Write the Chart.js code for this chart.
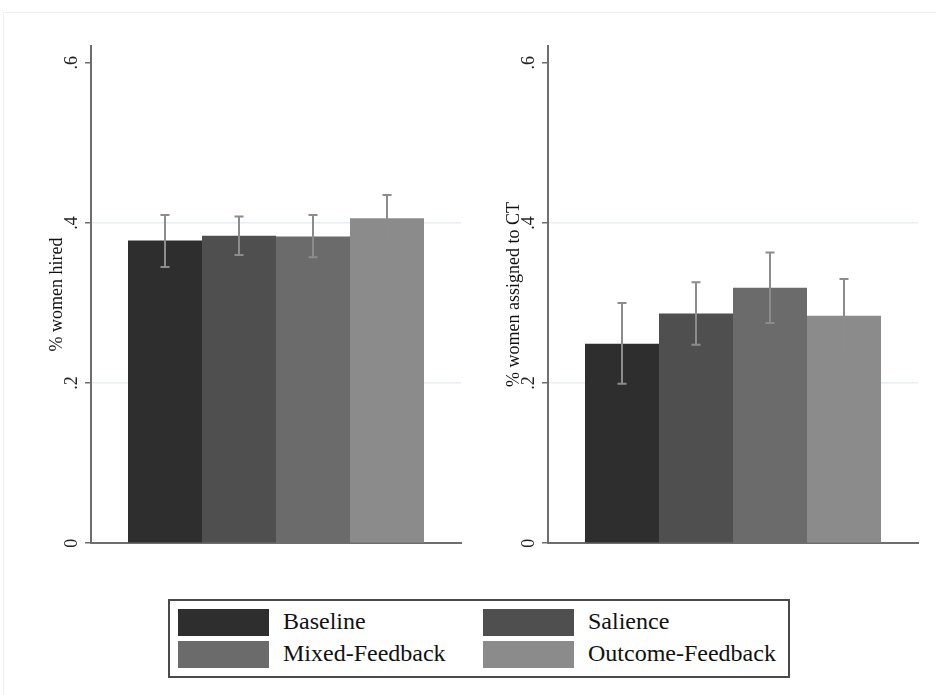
<!DOCTYPE html>
<html>
<head>
<meta charset="utf-8">
<script src="https://cdn.jsdelivr.net/npm/chart.js@4"></script>
<style>
    body { margin: 0; background: #fff; width: 936px; height: 695px; overflow: hidden; position: relative; font-family: "Liberation Serif", "Times New Roman", serif; }
    .frame { position: absolute; left: 3px; top: 12px; width: 940px; height: 700px; border: 1px solid #f0f0f0; box-sizing: border-box; }
    .panel { position: absolute; top: 0; width: 470px; height: 560px; }
    #legend { position: absolute; left: 168px; top: 599px; width: 622px; height: 79px; border: 2px solid #4a4a4a; box-sizing: border-box; }
    .item { position: absolute; height: 27px; }
    .item span.sw { position: absolute; left: 0; top: 0; width: 91px; height: 27px; }
    .item span.tx { position: absolute; left: 105px; top: -3px; font-size: 24px; line-height: 30px; color: #111; white-space: nowrap; }
</style>
</head>
<body>
<div class="frame"></div>
<div class="panel" style="left:0"><canvas id="hiredChart"></canvas></div>
<div class="panel" style="left:457px"><canvas id="ctChart"></canvas></div>
<div id="legend"></div>

<script>
    const categories = ['Baseline', 'Salience', 'Mixed-Feedback', 'Outcome-Feedback'];
    const colors = ['#2e2e2e', '#4f4f4f', '#6b6b6b', '#8b8b8b'];

    // % women hired: mean and CI bounds
    const hiredMean = [0.378, 0.384, 0.383, 0.406];
    const hiredLow = [0.345, 0.360, 0.357, 0.378];
    const hiredHigh = [0.410, 0.408, 0.410, 0.435];

    // % women assigned to CT
    const ctMean = [0.249, 0.287, 0.319, 0.284];
    const ctLow = [0.199, 0.248, 0.275, 0.240];
    const ctHigh = [0.300, 0.326, 0.363, 0.330];

    const yTicks = [0, 0.2, 0.4, 0.6];
    const yTickLabels = ['0', '.2', '.4', '.6'];

    const serif = '"Liberation Serif", "Times New Roman", serif';

    const errorBars = {
        id: 'errorBars',
        afterDatasetsDraw(chart, args, opts) {
            const ctx = chart.ctx;
            const y = chart.scales.y;
            ctx.save();
            ctx.strokeStyle = '#8c8c8c';
            ctx.lineWidth = 2;
            chart.data.datasets.forEach((ds, i) => {
                const bar = chart.getDatasetMeta(i).data[0];
                const x = bar.x;
                const top = y.getPixelForValue(opts.high[i]);
                const bottom = y.getPixelForValue(opts.low[i]);
                ctx.beginPath();
                ctx.moveTo(x, top);
                ctx.lineTo(x, bottom);
                ctx.moveTo(x - 4.5, top);
                ctx.lineTo(x + 4.5, top);
                ctx.moveTo(x - 4.5, bottom);
                ctx.lineTo(x + 4.5, bottom);
                ctx.stroke();
            });
            ctx.restore();
        }
    };

    function makeChart(id, title, means, low, high) {
        const ctx = document.getElementById(id).getContext('2d');

        const data = {
            labels: [''],
            datasets: categories.map((c, i) => ({
                label: c,
                data: [means[i]],
                backgroundColor: colors[i],
                borderWidth: 0,
                categoryPercentage: 0.8,
                barPercentage: 1.0
            }))
        };

        const options = {
            responsive: true,
            maintainAspectRatio: false,
            animation: false,
            layout: {
                padding: { left: 0, top: 46, right: 9, bottom: 15 }
            },
            plugins: {
                legend: { display: false },
                tooltip: { enabled: false },
                errorBars: { low: low, high: high }
            },
            scales: {
                x: {
                    grid: { color: 'transparent', drawTicks: false },
                    border: { display: true, color: '#6e6e6e', width: 2 },
                    ticks: { display: false },
                    afterFit: scale => { scale.height = 0; }
                },
                y: {
                    min: 0,
                    max: 0.621,
                    afterBuildTicks: scale => { scale.ticks = yTicks.map(v => ({ value: v })); },
                    afterFit: scale => { scale.width = 91; },
                    grid: {
                        color: c => (c.tick && (c.tick.value === 0.2 || c.tick.value === 0.4)) ? '#e8eef4' : 'transparent',
                        lineWidth: 1.5,
                        tickLength: 6,
                        tickColor: '#6e6e6e',
                        tickWidth: 1.5
                    },
                    border: { display: true, color: '#6e6e6e', width: 2 },
                    ticks: {
                        minRotation: 90,
                        maxRotation: 90,
                        crossAlign: 'center',
                        padding: 6,
                        color: '#222',
                        font: { family: serif, size: 18 },
                        callback: (v) => yTickLabels[yTicks.indexOf(v)]
                    },
                    title: {
                        display: true,
                        text: title,
                        color: '#111',
                        font: { family: serif, size: 18 },
                        padding: { top: 46, bottom: 0 }
                    }
                }
            }
        };

        return new Chart(ctx, {
            type: 'bar',
            data: data,
            options: options,
            plugins: [errorBars]
        });
    }

    makeChart('hiredChart', '% women hired', hiredMean, hiredLow, hiredHigh);
    makeChart('ctChart', '% women assigned to CT', ctMean, ctLow, ctHigh);

    // legend, two columns
    const legend = document.getElementById('legend');
    categories.forEach((c, i) => {
        const item = document.createElement('div');
        item.className = 'item';
        item.style.left = (i % 2 === 0 ? 8 : 313) + 'px';
        item.style.top = (i < 2 ? 8 : 40) + 'px';
        item.innerHTML = '<span class="sw" style="background:' + colors[i] + '"></span><span class="tx">' + c + '</span>';
        legend.appendChild(item);
    });
</script>
</body>
</html>
